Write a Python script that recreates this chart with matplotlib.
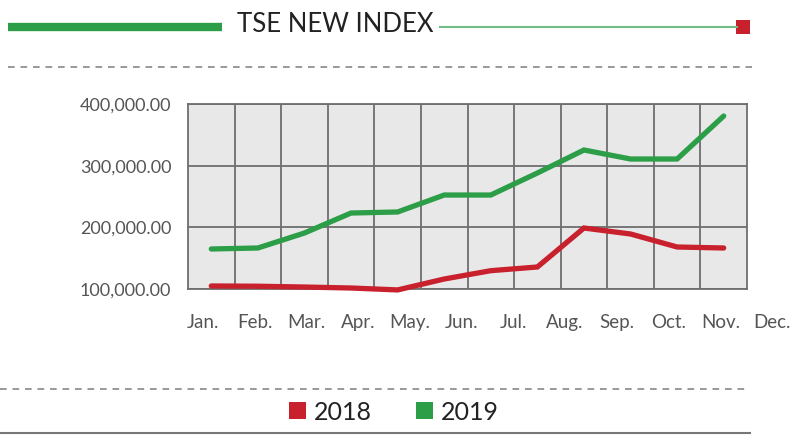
import matplotlib
matplotlib.use("Agg")
import matplotlib.pyplot as plt
from matplotlib.lines import Line2D
from matplotlib.patches import Rectangle

plt.rcParams['font.family'] = ['Lato', 'DejaVu Sans']

months = ["Jan.", "Feb.", "Mar.", "Apr.", "May.", "Jun.", "Jul.", "Aug.", "Sep.", "Oct.", "Nov.", "Dec."]
values_2018 = [104900, 104500, 103200, 101600, 98500, 116200, 129700, 135700, 198900, 189200, 168100, 166500]
values_2019 = [164900, 166500, 190800, 223200, 224900, 252400, 252400, 288100, 325400, 310800, 310800, 380500]
yticks = [100000, 200000, 300000, 400000]
title = "TSE NEW INDEX"
series_names = ["2018", "2019"]

RED = "#c8202d"
GREEN = "#2c9e48"
LIGHT_GREEN = "#72bd85"
GRID = "#6e6e6e"

W, H = 795, 440
fig = plt.figure(figsize=(W / 100, H / 100), dpi=100)

def fx(px):
    return px / W

def fy(py):
    return 1 - py / H

# main plot
ax = fig.add_axes([fx(188), fy(289), fx(747 - 188), (289 - 104) / H])
ax.set_facecolor("#e8e8e8")
xs = [i + 0.5 for i in range(len(months))]
ax.plot(xs, values_2018, color=RED, lw=3.8, solid_capstyle="round", solid_joinstyle="miter", clip_on=False, zorder=3)
ax.plot(xs, values_2019, color=GREEN, lw=3.8, solid_capstyle="round", solid_joinstyle="miter", clip_on=False, zorder=3)
ax.set_xlim(0, len(months))
ax.set_ylim(yticks[0], yticks[-1])
ax.set_xticks(range(1, len(months)))
ax.set_xticklabels([])
ax.tick_params(axis="x", length=0)
ax.set_yticks(yticks)
ax.set_yticklabels([f"{v:,.2f}" for v in yticks], color="#555555", fontsize=13)
ax.tick_params(axis="y", length=0, pad=12)
ax.grid(True, color=GRID, lw=1.3)
ax.set_axisbelow(True)
for s in ax.spines.values():
    s.set_color(GRID)
    s.set_linewidth(1.3)

# month labels (separate evenly spaced scale)
axl = fig.add_axes([fx(203), fy(314), fx(772 - 203), 0.0001])
axl.set_xlim(0, len(months) - 1)
axl.set_xticks(range(len(months)))
axl.set_xticklabels(months, color="#555555", fontsize=13.5)
axl.tick_params(axis="x", length=0, pad=0)
axl.set_yticks([])
for s in axl.spines.values():
    s.set_visible(False)
axl.patch.set_visible(False)

# header decorations
fig.add_artist(Line2D([fx(8), fx(222)], [fy(27), fy(27)], color=GREEN, lw=6, solid_capstyle="butt"))
fig.text(fx(335), fy(25), title, ha="center", va="center", fontsize=18.5, color="#222222")
fig.add_artist(Line2D([fx(440), fx(737)], [fy(27), fy(27)], color=LIGHT_GREEN, lw=1.5))
fig.add_artist(Rectangle((fx(736), fy(34)), fx(14), 14 / H, color=RED, lw=0))

# dashed separators
fig.add_artist(Line2D([fx(8), fx(752)], [fy(67), fy(67)], color="#888888", lw=1.2, ls=(0, (4, 3.5))))
fig.add_artist(Line2D([fx(0), fx(745)], [fy(389), fy(389)], color="#888888", lw=1.2, ls=(0, (4, 3.5))))
fig.add_artist(Line2D([fx(0), fx(750)], [fy(433), fy(433)], color="#777777", lw=1.5))

# legend
for name, color, sx in [(series_names[0], RED, 289), (series_names[1], GREEN, 416)]:
    fig.add_artist(Rectangle((fx(sx), fy(419)), fx(17), 17 / H, color=color, lw=0))
    fig.text(fx(sx + 25), fy(412), name, ha="left", va="center", fontsize=18, color="#222222")

fig.savefig("out.png", dpi=100)
